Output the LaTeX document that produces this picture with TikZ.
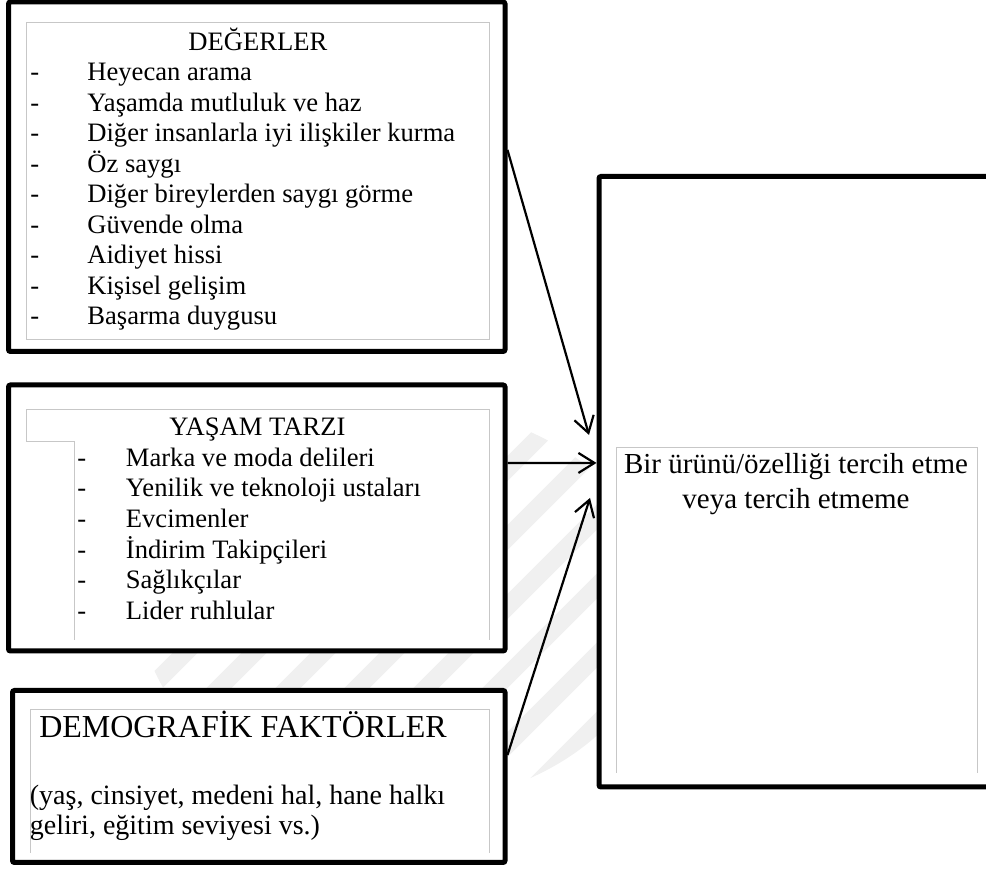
\documentclass[tikz,border=0pt]{standalone}
\usepackage{fontspec}
\setmainfont{Liberation Serif}
\usetikzlibrary{arrows.meta}

\tikzset{
  outerbox/.style={draw, line width=2.5pt, fill=white, rounded corners=1pt, inner sep=0pt},
  innerline/.style={draw=black!22, line width=0.5pt},
  arr/.style={-{Straight Barb[length=8pt,width=10pt]}, line width=1.1pt},
  stripe/.style={line width=9pt, black!6}
}

\begin{document}
\begin{tikzpicture}[x=0.5pt, y=-0.5pt]
    \clip (0,0) rectangle (986,870);
    % faint watermark behind the boxes
    \begin{scope}
      \clip (400,605) ellipse [x radius=260, y radius=200];
      \foreach \s in {-4,...,7}
        \draw[stripe] ({168+69*\s-300},970) -- ({168+69*\s+300},370);
    \end{scope}

    \node[outerbox, minimum width=248.25pt, minimum height=174.75pt] (values) at (256.75,176.75) {};
    \node[outerbox, minimum width=248.25pt, minimum height=133pt] (lifestyle) at (256.75,518) {};
    \node[outerbox, minimum width=246.25pt, minimum height=86pt] (demo) at (258.75,776.5) {};
    \node[outerbox, minimum width=200.5pt, minimum height=305.25pt] (result) at (799.5,481.75) {};

    % grey text frames
    \draw[innerline] (26,23) rectangle (489,340);
    \draw[innerline] (74,640) -- (74,442) -- (26,442) -- (26,410) -- (489,410) -- (489,640);
    \draw[innerline] (30,853) -- (30,710) -- (489,710) -- (489,853);
    \draw[innerline] (616,773) -- (616,448) -- (977,448) -- (977,773);

    \node[anchor=north west, inner sep=0pt, font=\fontsize{13.3}{15.25}\selectfont] (valuestext) at (30,27.15) {%
      \begin{tabular}{@{}p{28.5pt}@{}p{199pt}@{}}
        \multicolumn{2}{@{}c@{}}{DEĞERLER}\\
        - & Heyecan arama\\
        - & Yaşamda mutluluk ve haz\\
        - & Diğer insanlarla iyi ilişkiler kurma\\
        - & Öz saygı\\
        - & Diğer bireylerden saygı görme\\
        - & Güvende olma\\
        - & Aidiyet hissi\\
        - & Kişisel gelişim\\
        - & Başarma duygusu
      \end{tabular}};

    \node[anchor=north west, inner sep=0pt, font=\fontsize{13.3}{15.25}\selectfont] (lifetext) at (77,414.15) {%
      \begin{tabular}{@{}p{24.25pt}@{}p{155.75pt}@{}}
        \multicolumn{2}{@{}c@{}}{YAŞAM TARZI}\\
        - & Marka ve moda delileri\\
        - & Yenilik ve teknoloji ustaları\\
        - & Evcimenler\\
        - & İndirim Takipçileri\\
        - & Sağlıkçılar\\
        - & Lider ruhlular
      \end{tabular}};

    \node[anchor=base, inner sep=0pt, font=\fontsize{16}{18}\selectfont] (demotitle) at (243,737.3) {DEMOGRAFİK FAKTÖRLER};
    \node[anchor=north west, inner sep=0pt, font=\fontsize{14}{15}\selectfont] (demotext) at (29.5,783) {%
      \begin{tabular}{@{}l@{}}
        (yaş, cinsiyet, medeni hal, hane halkı\\
        geliri, eğitim seviyesi vs.)
      \end{tabular}};

    \node[anchor=north, inner sep=0pt, font=\fontsize{14.5}{17.5}\selectfont] (resulttext) at (796,448.5) {%
      \begin{tabular}{@{}c@{}}
        Bir ürünü/özelliği tercih etme\\
        veya tercih etmeme
      \end{tabular}};

    \draw[arr] ([yshift=13.4pt]values.east) -- ([xshift=-3.75pt,yshift=23.4pt]result.west);
    \draw[arr] ([yshift=27.5pt]lifestyle.east) -- ([yshift=9.4pt]result.west);
    \draw[arr] ([yshift=10.75pt]demo.east) -- ([xshift=-3.25pt,yshift=-8.1pt]result.west);
\end{tikzpicture}
\end{document}
